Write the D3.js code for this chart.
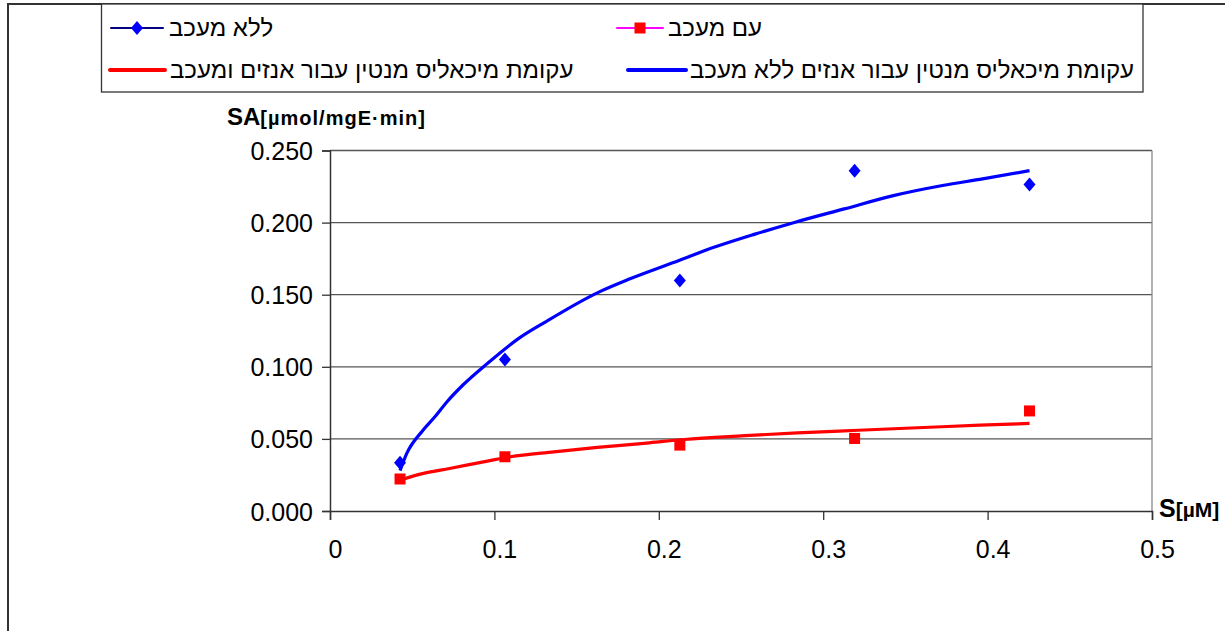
<!DOCTYPE html>
<html><head><meta charset="utf-8">
<script src="https://cdn.jsdelivr.net/npm/d3@7"></script>
<style>body{margin:0;background:#fff}svg{display:block;font-family:"Liberation Sans",Arial,sans-serif}</style>
</head><body>
<svg id="c" width="1225" height="631"></svg>
<script>
// ---- data ----
const S = [0.0426, 0.1064, 0.2128, 0.3191, 0.4255];
const withoutInhibitor = [0.0334, 0.105, 0.1599, 0.236, 0.2264];
const withInhibitor = [0.0222, 0.0376, 0.0457, 0.0503, 0.0694];
// fitted Michaelis-Menten curves
const curveBlueX = [0.0426, 0.0467, 0.0562, 0.0634, 0.0712, 0.0807, 0.0956, 0.1146, 0.1309, 0.1635, 0.1825, 0.2123, 0.234, 0.2585, 0.283, 0.3128, 0.3427, 0.3726, 0.397, 0.4255];
const curveBlueY = [0.028, 0.0399, 0.0555, 0.0648, 0.0758, 0.0872, 0.1022, 0.1195, 0.131, 0.1518, 0.161, 0.1737, 0.183, 0.192, 0.2003, 0.2095, 0.2187, 0.2257, 0.2303, 0.236];
const curveRedX = [0.0426, 0.0569, 0.0727, 0.0965, 0.1097, 0.1362, 0.1626, 0.1943, 0.2155, 0.2499, 0.2843, 0.3213, 0.361, 0.3953, 0.4255];
const curveRedY = [0.0215, 0.0261, 0.0295, 0.0348, 0.0376, 0.041, 0.0441, 0.0473, 0.0496, 0.0521, 0.0542, 0.056, 0.0579, 0.0595, 0.0607];
const yTicks = [0, 0.05, 0.1, 0.15, 0.2, 0.25];
const xTicks = [0, 0.1, 0.2, 0.3, 0.4, 0.5];
const legendLabels = ["ללא מעכב", "עם מעכב", "עקומת מיכאליס מנטין עבור אנזים ומעכב", "עקומת מיכאליס מנטין עבור אנזים ללא מעכב"];

const svg = d3.select("#c");
const x = d3.scaleLinear().domain([0, 0.5]).range([330, 1152]);
const y = d3.scaleLinear().domain([0, 0.25]).range([511, 150.5]);

// chart area border
svg.append("rect").attr("x", 8).attr("y", 4).attr("width", 1240).attr("height", 660)
  .attr("fill", "none").attr("stroke", "#333").attr("stroke-width", 2);

// gridlines
svg.append("g").selectAll("line").data(yTicks.filter(d => d > 0)).join("line")
  .attr("x1", x(0)).attr("x2", x(0.5)).attr("y1", d => y(d)).attr("y2", d => y(d))
  .attr("stroke", "#555").attr("stroke-width", 1.3);
// plot right border
svg.append("line").attr("x1", x(0.5)).attr("x2", x(0.5)).attr("y1", y(0.25)).attr("y2", y(0))
  .attr("stroke", "#888").attr("stroke-width", 1.3);

// axes
const yAxis = svg.append("g").attr("transform", `translate(${x(0)},0)`)
  .call(d3.axisLeft(y).tickValues(yTicks).tickSize(8).tickFormat(d3.format(".3f")));
const xAxis = svg.append("g").attr("transform", `translate(0,${y(0)})`)
  .call(d3.axisBottom(x).tickValues(xTicks).tickSize(9).tickFormat(d => d === 0 ? "0" : d3.format(".1f")(d)));
[yAxis, xAxis].forEach(a => {
  a.select(".domain").attr("stroke", "#333").attr("stroke-width", 1.5);
  a.selectAll(".tick line").attr("stroke", "#333").attr("stroke-width", 1.3);
  a.selectAll("text").attr("font-size", 25).attr("fill", "#000").attr("font-family", "Liberation Sans, Arial, sans-serif");
});
yAxis.selectAll("text").attr("x", -17).attr("dy", "0.36em");
xAxis.selectAll("text").attr("y", 29).attr("dx", 5);

// curves
const line = d3.line().x(d => x(d[0])).y(d => y(d[1])).curve(d3.curveMonotoneX);
svg.append("path").datum(d3.zip(curveBlueX, curveBlueY)).attr("d", line)
  .attr("fill", "none").attr("stroke", "#0000FF").attr("stroke-width", 3.2).attr("stroke-linejoin", "round");
svg.append("path").datum(d3.zip(curveRedX, curveRedY)).attr("d", line)
  .attr("fill", "none").attr("stroke", "#FF0000").attr("stroke-width", 3.2).attr("stroke-linejoin", "round");

// markers
const diamond = (cx, cy) => `M${cx},${cy - 7}L${cx + 6},${cy}L${cx},${cy + 7}L${cx - 6},${cy}Z`;
svg.append("g").selectAll("path").data(d3.zip(S, withoutInhibitor)).join("path")
  .attr("d", d => diamond(x(d[0]), y(d[1]))).attr("fill", "#0000FF");
svg.append("g").selectAll("rect").data(d3.zip(S, withInhibitor)).join("rect")
  .attr("x", d => x(d[0]) - 5.5).attr("y", d => y(d[1]) - 5.5).attr("width", 11).attr("height", 11)
  .attr("fill", "#FF0000");

// axis titles
const t1 = svg.append("text").attr("x", 227).attr("y", 125).attr("font-weight", "bold").attr("fill", "#000");
t1.append("tspan").attr("font-size", 24).text("SA");
t1.append("tspan").attr("font-size", 20).attr("letter-spacing", 1).text("[µmol/mgE·min]");
const t2 = svg.append("text").attr("x", 1159).attr("y", 517).attr("font-weight", "bold").attr("fill", "#000");
t2.append("tspan").attr("font-size", 25).text("S");
t2.append("tspan").attr("font-size", 21).text("[µM]");

// legend
svg.append("rect").attr("x", 101.5).attr("y", 4).attr("width", 1041.5).attr("height", 88)
  .attr("fill", "#fff").attr("stroke", "#333").attr("stroke-width", 1.3);
const lg = svg.append("g");
const items = [
  {x0: 111, x1: 163, yy: 28, stroke: "#000080", w: 2, mark: "diamond", tx: 169},
  {x0: 617, x1: 663, yy: 28, stroke: "#FF00FF", w: 2, mark: "square", tx: 668},
  {x0: 110, x1: 165, yy: 70, stroke: "#FF0000", w: 4, mark: null, tx: 170},
  {x0: 628, x1: 686, yy: 70, stroke: "#0000FF", w: 4, mark: null, tx: 690}
];
items.forEach((it, i) => {
  lg.append("line").attr("x1", it.x0).attr("x2", it.x1).attr("y1", it.yy).attr("y2", it.yy)
    .attr("stroke", it.stroke).attr("stroke-width", it.w).attr("stroke-linecap", "round");
  const cx = (it.x0 + it.x1) / 2;
  if (it.mark === "diamond") lg.append("path").attr("d", diamond(cx, it.yy)).attr("fill", "#0000FF");
  if (it.mark === "square") lg.append("rect").attr("x", cx - 5.5).attr("y", it.yy - 5.5).attr("width", 11).attr("height", 11).attr("fill", "#FF0000");
  lg.append("text").attr("x", it.tx).attr("y", it.yy).attr("dy", "0.35em").attr("font-size", 24)
    .attr("fill", "#000").attr("direction", "ltr").text(legendLabels[i]);
});
</script>
</body></html>
